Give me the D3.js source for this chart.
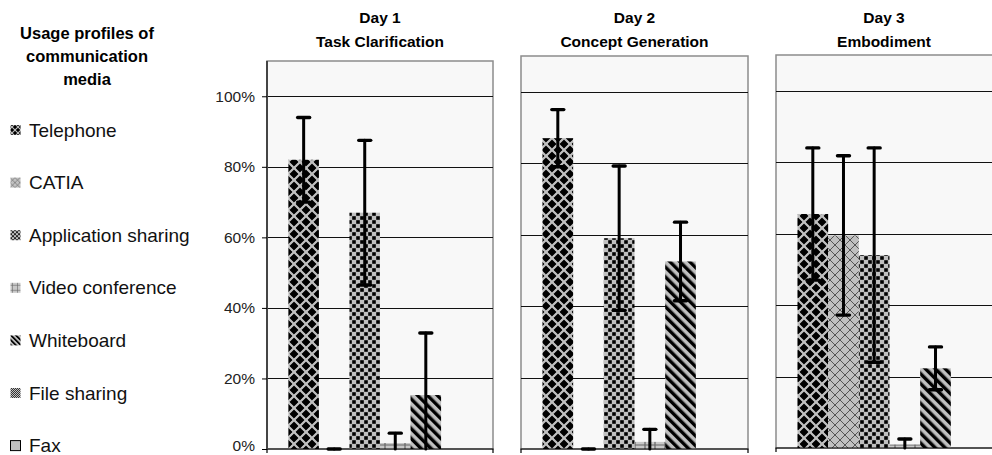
<!DOCTYPE html>
<html>
<head>
<meta charset="utf-8">
<script src="https://cdn.jsdelivr.net/npm/d3@7"></script>
<style>
  body { margin: 0; background: #fff; }
  svg { display: block; font-family: "Liberation Sans", Arial, sans-serif; }
</style>
</head>
<body>
<svg id="svg" width="992" height="455"></svg>
<script>
// media shown in the legend (Fax has no bar in the chart)
const media = ["Telephone", "CATIA", "Application sharing", "Video conference", "Whiteboard", "File sharing", "Fax"];
const plotted = media.slice(0, 6);
const days = ["Day 1", "Day 2", "Day 3"];
const phases = ["Task Clarification", "Concept Generation", "Embodiment"];
const yTicks = [0, 20, 40, 60, 80, 100];

// mean usage (%) per day, and error (%) per day
const telephone   = [82, 87, 65.5];
const catia       = [0, 0, 59.5];
const appSharing  = [67, 59, 54];
const videoConf   = [1.7, 2, 1];
const whiteboard  = [15.3, 52.5, 22.3];
const fileSharing = [null, null, null];

const telephoneErr   = [12, 8, 18.5];
const catiaErr       = [0, 0, 22.3];
const appSharingErr  = [20.5, 20.2, 30];
const videoConfErr   = [2.8, 3.5, 1.5];
const whiteboardErr  = [17.6, 11, 6];
const fileSharingErr = [null, null, null];

const values = [telephone, catia, appSharing, videoConf, whiteboard, fileSharing];
const errors = [telephoneErr, catiaErr, appSharingErr, videoConfErr, whiteboardErr, fileSharingErr];
const patternIds = ["tel", "catia", "app", "video", "wb", "fs", "fax"];

const svg = d3.select("#svg");
const defs = svg.append("defs");
const gray = "#c0c0c0";

function makePattern(id, k) {
  let p, s;
  const start = (size, extra) => defs.append("pattern").attr("id", id + k)
    .attr("patternUnits", "userSpaceOnUse").attr("width", size).attr("height", size)
    .attr("patternTransform", "scale(" + k + ")" + (extra || ""));
  if (id === "tel") {
    s = 12;
    p = start(s);
    p.append("rect").attr("width", s).attr("height", s).attr("fill", gray);
    const r = 4.1, c = s / 2;
    const dia = (x, y) => `M${x},${y - r}L${x + r},${y}L${x},${y + r}L${x - r},${y}Z`;
    p.append("path").attr("fill", "#000").attr("stroke", "#000").attr("stroke-width", 0.8)
      .attr("stroke-linejoin", "round")
      .attr("d", dia(c, c) + dia(0, 0) + dia(s, 0) + dia(0, s) + dia(s, s));
  } else if (id === "catia") {
    s = 10;
    p = start(s);
    p.append("rect").attr("width", s).attr("height", s).attr("fill", gray);
    p.append("path").attr("stroke", "#555").attr("stroke-width", 1).attr("fill", "none")
      .attr("d", `M0,0L${s},${s}M${s},0L0,${s}`);
  } else if (id === "app") {
    s = 8;
    p = start(s);
    p.append("rect").attr("width", s).attr("height", s).attr("fill", gray);
    p.append("rect").attr("x", 0.2).attr("y", 0.2).attr("width", 3.6).attr("height", 3.6).attr("fill", "#000");
    p.append("rect").attr("x", 4.2).attr("y", 4.2).attr("width", 3.6).attr("height", 3.6).attr("fill", "#000");
  } else if (id === "video") {
    s = 10;
    p = start(s);
    p.append("rect").attr("width", s).attr("height", s).attr("fill", "#c8c8c8");
    p.append("path").attr("stroke", "#666").attr("stroke-width", 1.2)
      .attr("d", `M${s / 2},0V${s}M0,${s / 2}H${s}`);
  } else if (id === "wb") {
    s = 7;
    p = start(s, " rotate(-45)");
    p.append("rect").attr("width", s).attr("height", s).attr("fill", gray);
    p.append("rect").attr("width", 3.4).attr("height", s).attr("fill", "#000");
  } else if (id === "fs") {
    s = 4;
    p = start(s);
    p.append("rect").attr("width", s).attr("height", s).attr("fill", gray);
    p.append("rect").attr("width", 2).attr("height", 2).attr("fill", "#333");
    p.append("rect").attr("x", 2).attr("y", 2).attr("width", 2).attr("height", 2).attr("fill", "#333");
  } else {
    p = start(4);
    p.append("rect").attr("width", 4).attr("height", 4).attr("fill", gray);
  }
}
patternIds.forEach(id => { makePattern(id, 1); makePattern(id, 0.5); });
const fillOf = (i, k) => "url(#" + patternIds[i] + k + ")";

// panel frames
const panels = [
  { x0: 267, x1: 493, top: 61, base: 449 },
  { x0: 521, x1: 748, top: 56, base: 449 },
  { x0: 776, x1: 1003, top: 55, base: 448 }
];

panels.forEach((pn, d) => {
  const x = d3.scaleBand().domain(plotted).range([pn.x0, pn.x1]).paddingInner(0).paddingOuter(0.7);
  const y = d3.scaleLinear().domain([0, 110]).range([pn.base, pn.top]);
  const g = svg.append("g");

  g.append("rect").attr("x", pn.x0).attr("y", pn.top)
    .attr("width", pn.x1 - pn.x0).attr("height", pn.base - pn.top)
    .attr("fill", "#f8f8f8").attr("stroke", "#8c8c8c").attr("stroke-width", 1.5);

  g.append("g").selectAll("line").data(yTicks.slice(1)).join("line")
    .attr("x1", pn.x0).attr("x2", pn.x1)
    .attr("y1", t => Math.round(y(t)) + 0.5).attr("y2", t => Math.round(y(t)) + 0.5)
    .attr("stroke", "#111").attr("stroke-width", 1);

  // bars
  const rows = plotted.map((m, i) => ({ m, i, v: values[i][d], e: errors[i][d] }))
    .filter(r => r.v !== null);
  g.append("g").selectAll("rect").data(rows).join("rect")
    .attr("x", r => x(r.m)).attr("width", x.bandwidth())
    .attr("y", r => y(r.v)).attr("height", r => y(0) - y(r.v))
    .attr("fill", r => fillOf(r.i, 1));

  // error bars
  const eb = g.append("g").attr("stroke", "#000").attr("stroke-linecap", "round");
  rows.forEach(r => {
    const cx = x(r.m) + x.bandwidth() / 2;
    const hi = y(r.v + r.e), lo = y(Math.max(0, r.v - r.e));
    eb.append("line").attr("x1", cx).attr("x2", cx).attr("y1", hi).attr("y2", lo).attr("stroke-width", 3);
    eb.append("line").attr("x1", cx - 6).attr("x2", cx + 6).attr("y1", hi).attr("y2", hi).attr("stroke-width", 3.4);
    if (r.v - r.e > 0) {
      eb.append("line").attr("x1", cx - 6).attr("x2", cx + 6).attr("y1", lo).attr("y2", lo).attr("stroke-width", 3.4);
    }
  });

  // x axis line with end ticks
  g.append("path").attr("fill", "none").attr("stroke", "#000").attr("stroke-width", 1.2)
    .attr("d", `M${pn.x0},${pn.base + 4}V${pn.base}H${pn.x1}V${pn.base + 4}`);

  if (d === 0) {
    const axis = g.append("g").attr("transform", `translate(${pn.x0},0)`)
      .call(d3.axisLeft(y).tickValues(yTicks).tickSize(5).tickPadding(7).tickFormat(t => t + "%"));
    axis.select(".domain").attr("stroke", "#444").attr("stroke-width", 2)
      .attr("d", `M0,${pn.top}V${pn.base}`);
    axis.selectAll(".tick line").attr("stroke", "#000");
    axis.selectAll(".tick text").attr("font-size", 15.5).attr("fill", "#222")
      .attr("font-family", "'Liberation Sans', Arial, sans-serif")
      .attr("dy", t => t === 0 ? "0.1em" : "0.32em");
  }

  const cx = (pn.x0 + Math.min(pn.x1, 992)) / 2;
  g.append("text").attr("x", cx).attr("y", 23).attr("text-anchor", "middle")
    .attr("font-weight", "bold").attr("font-size", 15.5).text(days[d]);
  g.append("text").attr("x", cx).attr("y", 47).attr("text-anchor", "middle")
    .attr("font-weight", "bold").attr("font-size", 15.5).text(phases[d]);
});

// legend
const legendTitle = ["Usage profiles of", "communication", "media"];
svg.append("g").selectAll("text").data(legendTitle).join("text")
  .attr("x", 87).attr("y", (t, i) => 39 + i * 23).attr("text-anchor", "middle")
  .attr("font-weight", "bold").attr("font-size", 16.5).text(t => t);

const legend = svg.append("g").selectAll("g").data(media).join("g")
  .attr("transform", (m, i) => `translate(0,${130 + i * 52.6})`);
legend.append("rect").attr("x", 10.5).attr("y", -5).attr("width", 10).attr("height", 10)
  .attr("fill", (m, i) => fillOf(i, 0.5))
  .attr("stroke", (m, i) => m === "Fax" ? "#000" : "none").attr("stroke-width", 1);
legend.append("text").attr("x", 29).attr("y", 6.5).attr("font-size", 19).attr("fill", "#111").text(m => m);
</script>
</body>
</html>
